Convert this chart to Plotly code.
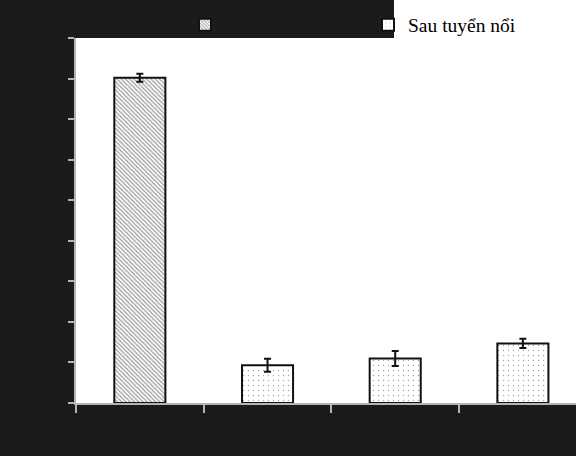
import plotly.graph_objects as go

categories = ["Mẫu 1", "Mẫu 2", "Mẫu 3", "Mẫu 4"]
series_names = ["Trước tuyển nổi", "Sau tuyển nổi"]
before_values = [80.2, None, None, None]
before_errors = [1.0, 0, 0, 0]
after_values = [None, 9.3, 11.0, 14.7]
after_errors = [0, 1.6, 1.85, 1.15]
y_ticks = [0, 10, 20, 30, 40, 50, 60, 70, 80, 90]

BG = "#1b1b1b"
AX = "#b4b4b4"

fig = go.Figure()
fig.add_trace(go.Bar(
    x=categories, y=before_values, name=series_names[0], width=0.4,
    marker=dict(color="white", line=dict(color="#111111", width=2),
                pattern=dict(shape="\\", size=3, solidity=0.4,
                             fgcolor="#333333", bgcolor="white", fillmode="overlay")),
    error_y=dict(type="data", array=before_errors, color="#111111", thickness=2, width=3.5),
    legend="legend",
))
fig.add_trace(go.Bar(
    x=categories, y=after_values, name=series_names[1], width=0.4,
    marker=dict(color="white", line=dict(color="#111111", width=2),
                pattern=dict(shape=".", size=5, solidity=0.06,
                             fgcolor="#444444", bgcolor="white", fillmode="overlay")),
    error_y=dict(type="data", array=after_errors, color="#111111", thickness=2, width=3.5),
    legend="legend2",
))

L, R, T, B = 76, 0, 38, 53
W, H = 576, 456
pw, ph = W - L - R, H - T - B

def px_x(px):
    return (px - L) / pw

def px_y(py):
    return 1 + (T - py) / ph

fig.add_shape(type="rect", xref="paper", yref="paper",
              x0=px_x(394), x1=px_x(576), y0=1, y1=px_y(0),
              fillcolor="white", line=dict(width=0), layer="below")

fig.update_layout(
    width=W, height=H,
    margin=dict(l=L, r=R, t=T, b=B, pad=0),
    paper_bgcolor=BG, plot_bgcolor="white",
    barmode="overlay",
    showlegend=True,
    legend=dict(x=px_x(185), y=px_y(25), xanchor="left", yanchor="middle",
                bgcolor="rgba(0,0,0,0)", borderwidth=0,
                font=dict(family="Liberation Serif", size=19.5, color=BG),
                orientation="h"),
    legend2=dict(x=px_x(368), y=px_y(25), xanchor="left", yanchor="middle",
                 bgcolor="rgba(0,0,0,0)", borderwidth=0,
                 font=dict(family="Liberation Serif", size=19.5, color="#000000"),
                 orientation="h"),
    font=dict(family="Liberation Serif", size=14, color=BG),
    xaxis=dict(type="category", range=[-0.5, 3.416], tickson="boundaries",
               ticks="outside", ticklen=8, tickcolor=AX, tickwidth=1.5,
               showline=True, linecolor=AX, linewidth=1.5, showgrid=False,
               tickfont=dict(color=BG, size=14)),
    yaxis=dict(range=[0, 90], tickvals=y_ticks, ticks="outside", ticklen=6,
               tickcolor=AX, tickwidth=1.5, showline=True, linecolor=AX,
               linewidth=1.5, showgrid=False, zeroline=False,
               tickfont=dict(color=BG, size=14)),
)

fig.write_html("out.html")
